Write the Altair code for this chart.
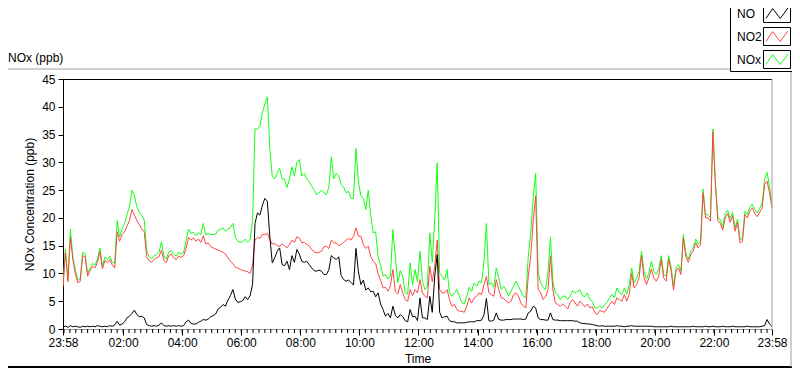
import altair as alt
import pandas as pd

# sample times: minutes after 23:58 (5-minute steps, 23:58 -> 23:58)
MINUTES = list(range(0, 1441, 5))

NO2 = [
    7.6, 13.8, 8.5, 16.5, 12.5, 10.0, 8.3, 8.6, 13.2, 13.0, 9.5, 10.5,
    11.3, 11.0, 12.0, 14.0, 10.8, 12.3, 12.0, 12.5, 11.5, 11.0, 17.5, 15.8,
    17.0, 17.5, 18.5, 19.5, 21.5, 20.5, 19.5, 18.8, 18.0, 17.5, 13.0, 12.3,
    12.0, 12.5, 12.8, 13.0, 14.2, 12.3, 12.0, 13.2, 13.5, 12.8, 12.5, 13.1,
    12.9, 13.2, 14.5, 16.5, 16.0, 16.4, 15.8, 16.2, 15.6, 16.8, 15.3, 15.5,
    14.8, 14.6, 14.4, 14.2, 14.0, 13.8, 13.5, 12.8, 12.2, 11.8, 11.1, 11.0,
    10.7, 10.6, 10.4, 10.3, 10.0, 11.5, 16.0, 16.5, 16.3, 17.0, 17.0, 17.2,
    16.1, 15.3, 15.4, 15.0, 14.9, 15.3, 15.0, 14.6, 15.2, 16.0, 15.6, 16.6,
    16.4, 15.5, 15.6, 15.2, 15.0, 14.3, 13.9, 13.7, 13.8, 14.0, 14.8, 14.9,
    14.5, 16.0, 15.5, 15.5, 15.0, 15.2, 15.6, 16.0, 16.3, 16.0, 16.7, 18.2,
    16.7, 16.7, 15.2, 14.5, 14.9, 13.0, 12.2, 11.8, 10.0, 8.8, 7.4, 7.5,
    6.8, 7.8, 10.7, 6.7, 6.3, 8.0, 6.5, 5.3, 5.0, 7.1, 6.0, 7.1,
    6.5, 8.9, 6.5, 5.9, 5.6, 11.3, 8.5, 11.3, 16.0, 7.1, 6.5, 6.5,
    7.1, 5.3, 4.1, 4.4, 3.5, 3.2, 3.2, 3.0, 4.1, 5.6, 4.7, 5.6,
    5.9, 6.5, 6.2, 8.0, 9.5, 6.5, 6.2, 5.9, 8.9, 7.1, 5.6, 5.5,
    5.0, 4.7, 5.0, 6.2, 6.5, 5.9, 4.7, 4.1, 3.8, 9.5, 13.1, 19.5,
    24.0, 7.1, 6.5, 5.3, 5.8, 7.0, 13.1, 7.0, 4.7, 4.4, 4.1, 4.5,
    4.1, 3.6, 4.7, 5.3, 4.7, 4.1, 5.0, 4.5, 4.0, 4.5, 3.8, 4.0,
    3.0, 2.6, 3.3, 3.2, 3.0, 3.7, 4.4, 5.0, 4.4, 5.6, 5.3, 5.0,
    6.2, 5.0, 6.2, 10.0, 7.4, 8.0, 9.2, 13.2, 9.2, 8.0, 9.2, 10.8,
    9.2, 8.6, 9.5, 12.5, 9.2, 8.6, 12.6, 10.5, 7.0, 10.4, 11.0, 9.8,
    16.4, 13.0, 12.0, 13.4, 14.0, 15.5, 14.6, 15.2, 24.5, 20.0, 20.0, 19.4,
    35.5, 26.0, 19.5, 19.0, 17.8, 20.0, 20.8, 19.2, 20.4, 17.6, 19.2, 15.5,
    15.8, 20.6, 20.0, 21.2, 21.8, 20.8, 20.2, 21.0, 21.8, 26.0, 26.6, 24.5,
    21.8,
]

NO = [
    0.4, 0.5, 0.3, 0.6, 0.4, 0.5, 0.4, 0.3, 0.5, 0.4, 0.5, 0.4,
    0.5, 0.4, 0.6, 0.5, 0.4, 0.5, 0.4, 0.6, 0.5, 0.7, 1.4, 0.7,
    0.9, 1.3, 2.0, 2.3, 2.8, 3.4, 2.6, 2.2, 2.3, 2.0, 0.8, 0.6,
    0.5, 0.6, 0.5, 0.7, 1.1, 0.6, 0.5, 0.6, 0.5, 0.6, 0.5, 0.6,
    0.5, 0.6, 1.3, 1.6, 1.0, 0.9, 0.9, 1.2, 1.4, 1.7, 1.6, 1.8,
    2.2, 2.4, 2.7, 3.6, 3.9, 4.4, 4.1, 5.2, 6.0, 7.1, 5.4, 4.8,
    4.9, 5.1, 5.8, 5.3, 6.0, 8.0, 19.0, 20.9, 20.5, 22.3, 23.5, 23.0,
    16.7, 11.9, 12.8, 14.0, 14.6, 11.6, 11.4, 12.2, 10.7, 13.2, 12.0, 14.3,
    13.5, 12.2, 12.0, 12.2, 11.6, 11.0, 10.5, 10.4, 10.6, 10.4, 9.8, 9.8,
    10.7, 13.2, 12.8, 12.5, 13.0, 9.6, 8.9, 8.6, 8.8, 8.4, 7.9, 14.5,
    10.3, 8.0, 8.8, 7.0, 7.4, 6.7, 6.8, 5.8, 6.5, 4.5, 3.5, 2.3,
    2.8, 2.0, 4.1, 2.5, 2.0, 2.6, 2.2, 1.5, 1.3, 3.5, 2.2, 2.3,
    1.5, 5.6, 2.0, 2.0, 1.7, 5.9, 3.0, 9.5, 13.4, 3.0, 2.0, 2.2,
    2.3, 1.5, 1.3, 1.3, 1.1, 1.1, 1.1, 1.1, 1.2, 1.3, 1.3, 1.3,
    1.5, 1.5, 1.6, 2.5, 5.5, 1.5, 1.4, 1.6, 2.9, 1.7, 1.6, 1.6,
    1.7, 1.7, 1.7, 1.8, 1.8, 1.8, 1.8, 1.7, 1.8, 2.9, 3.2, 4.1,
    3.8, 2.0, 1.7, 1.7, 1.6, 1.6, 2.9, 1.7, 1.6, 1.6, 1.5, 1.5,
    1.5, 1.5, 1.5, 1.5, 1.4, 1.4, 1.1, 1.0, 1.0, 0.9, 0.9, 0.8,
    0.7, 0.6, 0.5, 0.6, 0.5, 0.5, 0.5, 0.5, 0.5, 0.6, 0.5, 0.5,
    0.4, 0.5, 0.5, 0.6, 0.5, 0.5, 0.5, 0.5, 0.5, 0.5, 0.5, 0.5,
    0.4, 0.4, 0.4, 0.4, 0.4, 0.4, 0.4, 0.5, 0.4, 0.4, 0.4, 0.4,
    0.4, 0.4, 0.4, 0.4, 0.5, 0.4, 0.4, 0.4, 0.4, 0.5, 0.4, 0.4,
    0.5, 0.4, 0.4, 0.4, 0.5, 0.4, 0.4, 0.4, 0.5, 0.4, 0.4, 0.4,
    0.4, 0.4, 0.5, 0.4, 0.4, 0.4, 0.4, 0.4, 0.5, 0.6, 1.7, 0.9,
    0.5,
]

NOX = [
    7.9, 14.4, 8.9, 18.0, 13.0, 10.6, 8.8, 9.0, 13.8, 13.5, 10.0, 11.0,
    11.8, 11.5, 12.6, 14.6, 11.3, 12.9, 12.5, 13.1, 12.0, 11.8, 19.5, 16.6,
    18.0, 19.0, 20.6, 22.0, 25.0, 24.0, 22.0, 21.0, 20.5, 19.6, 14.0, 13.0,
    12.6, 13.2, 13.4, 13.8, 15.7, 13.0, 12.6, 13.9, 14.1, 13.5, 13.1, 13.8,
    13.5, 13.8, 15.9, 18.0, 17.2, 17.4, 16.8, 17.3, 17.0, 19.0, 16.9, 17.2,
    17.0, 17.0, 17.1, 17.8, 17.9, 18.2, 17.6, 18.0, 18.2, 19.0, 16.5, 15.8,
    15.6, 15.7, 16.2, 15.6, 16.0, 19.5, 36.0, 36.0, 36.5, 39.0, 40.5, 41.8,
    32.5, 27.5, 27.0, 28.0, 29.0, 27.0, 27.0, 25.5, 27.0, 29.2, 27.5, 30.0,
    30.5, 27.5, 28.0, 27.0, 26.5, 25.7, 25.0, 24.2, 24.5, 25.0, 24.5, 24.2,
    25.5, 31.0, 27.0, 28.0, 27.5, 26.0, 25.5, 24.5, 24.8, 23.5, 23.5, 32.5,
    26.5, 24.0, 23.5, 21.5, 25.0, 20.5, 17.3, 17.5, 13.0, 11.5, 9.5, 9.8,
    9.0, 9.5, 17.9, 13.0, 8.3, 10.5, 9.5, 6.5, 6.3, 11.9, 8.0, 10.7,
    8.5, 14.0, 8.6, 7.1, 7.6, 17.3, 12.0, 19.7, 29.9, 10.1, 9.5, 8.8,
    10.7, 6.5, 5.9, 6.5, 7.1, 5.9, 4.7, 4.5, 5.9, 7.5, 6.8, 8.3,
    7.7, 8.6, 8.3, 12.0, 19.0, 8.0, 8.3, 7.5, 11.0, 9.2, 7.1, 7.7,
    7.0, 5.9, 6.8, 7.7, 8.6, 7.7, 6.8, 5.9, 5.6, 13.1, 17.3, 23.5,
    28.0, 10.1, 8.3, 7.5, 7.1, 10.1, 16.5, 8.5, 6.5, 6.2, 5.3, 5.9,
    5.9, 5.3, 5.9, 6.9, 6.5, 6.8, 7.0, 6.0, 5.8, 6.5, 5.3, 5.0,
    3.8, 3.8, 4.2, 3.8, 4.4, 4.8, 5.6, 6.2, 5.6, 7.4, 6.5, 6.2,
    7.4, 6.2, 8.0, 11.0, 8.3, 9.2, 10.4, 14.0, 10.4, 9.0, 10.1, 12.2,
    10.4, 9.8, 10.8, 13.2, 9.8, 9.5, 13.2, 11.2, 7.7, 11.0, 11.6, 10.5,
    17.0, 13.7, 12.6, 14.0, 14.6, 16.2, 15.2, 15.8, 25.2, 20.6, 20.6, 20.0,
    36.0, 26.6, 20.2, 19.6, 18.4, 20.8, 21.4, 19.9, 21.0, 18.2, 19.8, 16.1,
    16.4, 21.2, 20.6, 21.9, 22.5, 21.5, 20.9, 21.7, 22.6, 27.0, 28.2, 25.6,
    22.4,
]

SERIES = ["NO", "NO2", "NOx"]
COLORS = ["#000000", "#ff4646", "#14ff14"]
X_TICKS = [0, 122, 242, 362, 482, 602, 722, 842, 962, 1082, 1202, 1322, 1440]
MINOR_TICKS = list(range(2, 1440, 12))
Y_TICKS = list(range(0, 46, 5))

W, H = 709, 250
FONT = "Liberation Sans"

assert len(NO) == len(NO2) == len(NOX) == len(MINUTES)

values = {"NO": NO, "NO2": NO2, "NOx": NOX}
xscale = alt.Scale(domain=[0, 1440], nice=False, zero=False)
yscale = alt.Scale(domain=[0, 45], nice=False)

label_expr = "timeFormat(datetime(2000, 0, 1, 23, 58 + datum.value), '%H:%M')"

layers = []
# draw NOx first, then NO2, then NO on top
for name in ["NOx", "NO2", "NO"]:
    color = COLORS[SERIES.index(name)]
    df = pd.DataFrame({"minute": MINUTES, "value": values[name]})
    layers.append(
        alt.Chart(df).mark_line(color=color, strokeWidth=1, clip=True).encode(
            x=alt.X("minute:Q", scale=xscale,
                    axis=alt.Axis(values=X_TICKS, labelExpr=label_expr, title="Time",
                                  tickSize=6, tickColor="#000000", domainColor="#a0a0a0",
                                  labelPadding=2, titlePadding=5, grid=False,
                                  labelFlush=False, labelOverlap=False)),
            y=alt.Y("value:Q", scale=yscale,
                    axis=alt.Axis(values=Y_TICKS, title="NOx Concentration (ppb)",
                                  tickSize=5, tickColor="#000000", domainColor="#000000",
                                  labelPadding=3, titlePadding=5, grid=False)),
        )
    )

# minor x ticks (every 12 minutes from 00:00)
layers.append(
    alt.Chart(pd.DataFrame({"minute": MINOR_TICKS})).mark_rule(
        color="#000000", strokeWidth=1).encode(
        x=alt.X("minute:Q", scale=xscale), y=alt.value(H), y2=alt.value(H + 4))
)

one = pd.DataFrame({"k": [0]})
# plot frame: top (black) and right (gray)
layers.append(alt.Chart(one).mark_rule(color="#000000").encode(
    x=alt.value(0), x2=alt.value(W), y=alt.value(0.5)))
layers.append(alt.Chart(one).mark_rule(color="#a0a0a0").encode(
    x=alt.value(W), y=alt.value(0), y2=alt.value(H)))

# outer frame
layers.append(alt.Chart(one).mark_rule(color="#a0a0a0").encode(
    x=alt.value(-56), x2=alt.value(667), y=alt.value(-10)))
layers.append(alt.Chart(one).mark_rule(color="#000000", strokeWidth=2).encode(
    x=alt.value(-56), x2=alt.value(729), y=alt.value(288)))
layers.append(alt.Chart(one).mark_rule(color="#a0a0a0").encode(
    x=alt.value(728), y=alt.value(-7), y2=alt.value(288)))

# chart caption
layers.append(alt.Chart(pd.DataFrame({"t": ["NOx (ppb)"]})).mark_text(
    align="left", baseline="alphabetic", font=FONT, fontSize=12, color="#000000").encode(
    text="t:N", x=alt.value(-55), y=alt.value(-17)))

# legend box
layers.append(alt.Chart(one).mark_rect(fill="#ffffff", stroke="#000000", strokeWidth=1).encode(
    x=alt.value(667.5), x2=alt.value(735), y=alt.value(-90), y2=alt.value(-7.5)))
ZIGZAG = "M-1,0.45L-0.4,-0.45L0.3,0.45L1,-0.5"
for i, name in enumerate(SERIES):
    cy = -65.5 + i * 23
    d = pd.DataFrame({"name": [name]})
    layers.append(alt.Chart(d).mark_text(
        align="left", baseline="middle", font=FONT, fontSize=12, color="#000000").encode(
        text="name:N", x=alt.value(674), y=alt.value(cy)))
    layers.append(alt.Chart(d).mark_rect(fill="#ffffff", stroke="#000000", strokeWidth=1).encode(
        x=alt.value(700.5), x2=alt.value(727.5), y=alt.value(cy - 9), y2=alt.value(cy + 9)))
    layers.append(alt.Chart(d).mark_point(shape=ZIGZAG, size=480, filled=False,
                                          color=COLORS[i], strokeWidth=1, opacity=1).encode(
        x=alt.value(714), y=alt.value(cy)))

chart = alt.layer(*layers).properties(
    width=W, height=H,
    padding={"left": 55, "top": 71, "right": 20, "bottom": 40},
    autosize=alt.AutoSizeParams(type="none"),
    background="#ffffff",
).configure_view(stroke=None).configure_axis(
    labelFont=FONT, titleFont=FONT, labelFontSize=12, titleFontSize=12,
    labelColor="#000000", titleColor="#000000", titleFontWeight="normal",
)

chart.save("out.html", embed_options={"renderer": "svg", "actions": False})
